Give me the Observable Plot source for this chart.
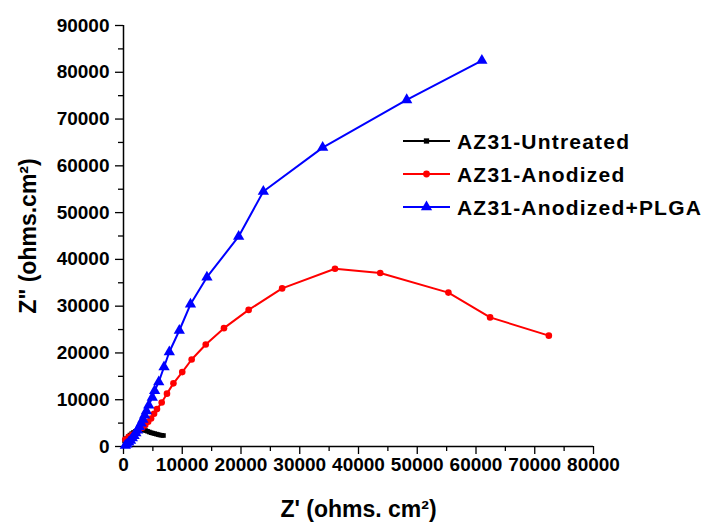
<!DOCTYPE html>
<html>
<head>
<meta charset="utf-8">
<script src="https://cdn.jsdelivr.net/npm/d3@7"></script>
<script src="https://cdn.jsdelivr.net/npm/@observablehq/plot@0.6"></script>
<style>
  html, body { margin: 0; padding: 0; background: #fff; }
  #chart svg { font-family: "Liberation Sans", Arial, sans-serif; font-weight: bold; }
</style>
</head>
<body>
<div id="chart"></div>
<script>
// ---- data ----
const seriesNames = ["AZ31-Untreated", "AZ31-Anodized", "AZ31-Anodized+PLGA"];
const seriesColors = ["#000000", "#ff0000", "#0000ff"];

const untreatedX = [200, 500, 800, 1100, 1400, 1700, 2000, 2300, 2600, 2900, 3200, 3500, 3800, 4100, 4400, 4700, 5000, 5300, 5600, 5900, 6200, 6500, 6800];
const untreatedY = [1250, 1700, 2100, 2450, 2750, 3000, 3200, 3350, 3450, 3550, 3550, 3500, 3400, 3250, 3100, 2950, 2850, 2750, 2650, 2550, 2450, 2400, 2350];

const anodizedX = [300, 900, 1500, 2100, 2600, 3200, 3700, 4200, 4700, 5200, 5700, 6500, 7400, 8500, 10000, 11600, 14000, 17100, 21300, 27000, 36000, 43700, 55300, 62400, 72400];
const anodizedY = [1500, 2100, 2500, 3000, 3400, 4000, 4600, 5300, 6000, 7000, 8000, 9400, 11300, 13500, 15900, 18600, 21800, 25300, 29200, 33800, 38000, 37100, 32900, 27600, 23700];

const plgaX = [300, 600, 900, 1200, 1500, 1800, 2100, 2400, 2700, 3000, 3300, 3600, 3900, 4300, 4900, 5300, 6000, 6900, 7800, 9500, 11400, 14200, 19600, 23800, 33900, 48200, 61000];
const plgaY = [200, 500, 900, 1300, 1800, 2300, 2900, 3500, 4200, 5000, 5800, 6700, 7600, 8800, 10500, 11900, 13800, 17000, 20200, 24800, 30400, 36200, 44900, 54500, 63900, 74100, 82500];

const xTicksMajor = [0, 10000, 20000, 30000, 40000, 50000, 60000, 70000, 80000];
const xTicksMinor = [5000, 15000, 25000, 35000, 45000, 55000, 65000, 75000];
const yTicksMajor = [0, 10000, 20000, 30000, 40000, 50000, 60000, 70000, 80000, 90000];
const yTicksMinor = [5000, 15000, 25000, 35000, 45000, 55000, 65000, 75000, 85000];

const xLabel = "Z' (ohms. cm²)";
const yLabel = "Z\" (ohms.cm²)";

// ---- build tables ----
const untreated = untreatedX.map((x, i) => ({x, y: untreatedY[i]}));
const anodized = anodizedX.map((x, i) => ({x, y: anodizedY[i]}));
const plga = plgaX.map((x, i) => ({x, y: plgaY[i]}));

const W = 707, H = 529;
const plot = Plot.plot({
  width: W,
  height: H,
  marginLeft: 123,
  marginRight: 114,
  marginTop: 25,
  marginBottom: 83,
  x: {domain: [0, 80000]},
  y: {domain: [0, 90000]},
  style: {fontSize: "19px", fontWeight: "bold", fontFamily: "'Liberation Sans', Arial, sans-serif"},
  marks: [
    Plot.axisX(xTicksMajor, {tickSize: 8, tickPadding: 3, tickFormat: d => String(d), label: null, fontSize: 19, stroke: "#000", strokeWidth: 1.3}),
    Plot.axisX(xTicksMinor, {tickSize: 5, tickFormat: () => "", label: null, strokeWidth: 1.3}),
    Plot.axisY(yTicksMajor, {tickSize: 8, tickPadding: 6, tickFormat: d => String(d), label: null, fontSize: 19, strokeWidth: 1.3}),
    Plot.axisY(yTicksMinor, {tickSize: 5, tickFormat: () => "", label: null, strokeWidth: 1.3}),
    Plot.ruleX([0], {strokeWidth: 1.5}),
    Plot.ruleY([0], {strokeWidth: 1.5}),
    Plot.line(untreated, {x: "x", y: "y", stroke: seriesColors[0], strokeWidth: 2}),
    Plot.dot(untreated, {x: "x", y: "y", symbol: "square", r: 2.6, fill: seriesColors[0]}),
    Plot.line(anodized, {x: "x", y: "y", stroke: seriesColors[1], strokeWidth: 2}),
    Plot.dot(anodized, {x: "x", y: "y", symbol: "circle", r: 3.3, fill: seriesColors[1]}),
    Plot.line(plga, {x: "x", y: "y", stroke: seriesColors[2], strokeWidth: 2}),
    Plot.dot(plga, {x: "x", y: "y", symbol: "triangle", r: 4.2, fill: seriesColors[2]}),
    Plot.text([xLabel], {frameAnchor: "bottom", dy: 70, fontSize: 23, fontWeight: "bold", textAnchor: "middle"}),
    Plot.text([yLabel], {frameAnchor: "left", dx: -95, rotate: -90, fontSize: 23, fontWeight: "bold", textAnchor: "middle"})
  ]
});

// ---- legend inside the plot area ----
const svg = d3.select(plot);
const legend = svg.append("g").attr("class", "legend").attr("text-anchor", "start");
const symbols = [d3.symbolSquare, d3.symbolCircle, d3.symbolTriangle];
const symSizes = [28, 36, 55];
seriesNames.forEach((name, i) => {
  const yy = 141 + i * 33;
  legend.append("line")
    .attr("x1", 403).attr("x2", 450).attr("y1", yy).attr("y2", yy)
    .attr("stroke", seriesColors[i]).attr("stroke-width", 2);
  legend.append("path")
    .attr("d", d3.symbol(symbols[i], symSizes[i])())
    .attr("transform", `translate(426.5,${yy})`)
    .attr("fill", seriesColors[i]);
  legend.append("text")
    .attr("x", 457).attr("y", yy).attr("dy", "0.36em")
    .attr("text-anchor", "start")
    .attr("font-size", 21).attr("font-weight", "bold")
    .attr("letter-spacing", "1.2px")
    .attr("fill", "#000")
    .text(name);
});

document.getElementById("chart").appendChild(plot);
</script>
</body>
</html>
